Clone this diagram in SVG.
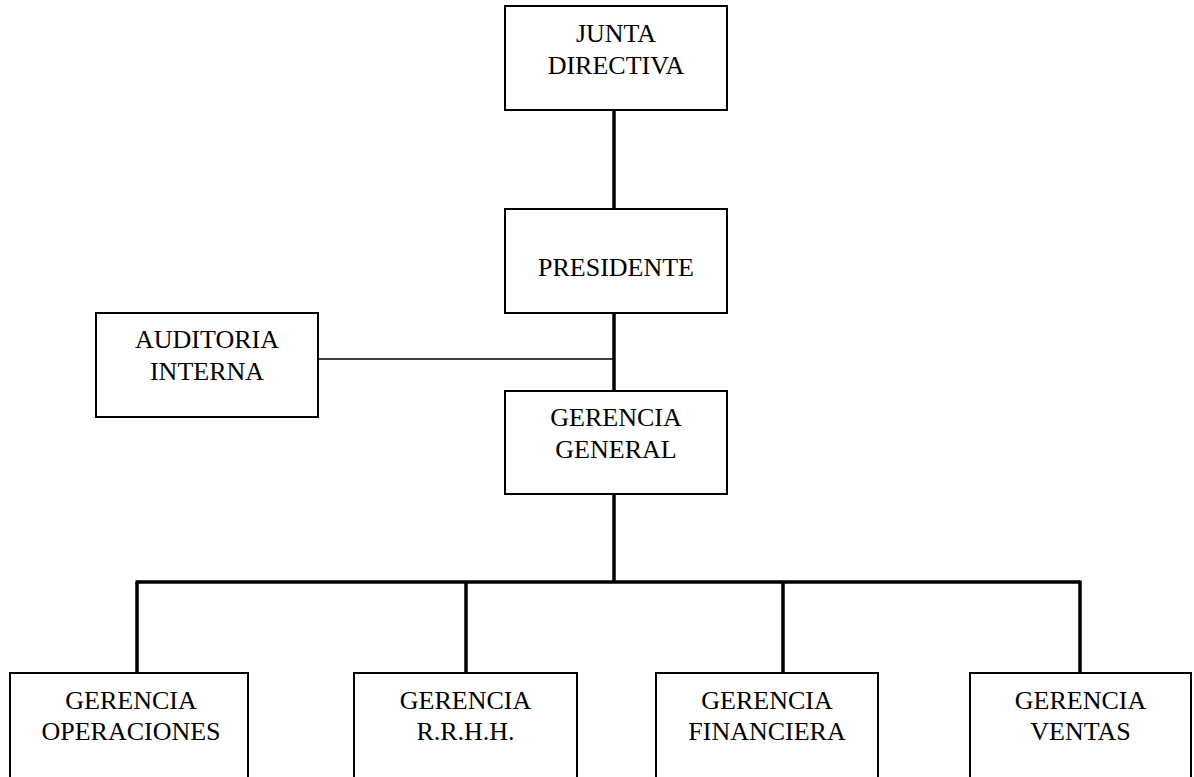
<svg xmlns="http://www.w3.org/2000/svg" width="1194" height="777" viewBox="0 0 1194 777">
<style>
.box{fill:#fff;stroke:#000;stroke-width:2}
.t{font-family:"Liberation Serif","Times New Roman",serif;font-size:26px;fill:#000;text-anchor:middle}
.c{stroke:#000;stroke-width:3.5;fill:none}
.thin{stroke:#000;stroke-width:1.5;fill:none}
</style>
<rect width="1194" height="777" fill="#fff"/>
<g id="connectors">
<line class="c" x1="614" y1="110" x2="614" y2="209"/>
<line class="c" x1="614" y1="313" x2="614" y2="391"/>
<line class="thin" x1="318" y1="359" x2="614" y2="359"/>
<line class="c" x1="614" y1="494" x2="614" y2="582"/>
<line class="c" x1="135.5" y1="582" x2="1080" y2="582"/>
<line class="c" x1="137" y1="582" x2="137" y2="673"/>
<line class="c" x1="466" y1="582" x2="466" y2="673"/>
<line class="c" x1="783" y1="582" x2="783" y2="673"/>
<line class="c" x1="1080" y1="580.5" x2="1080" y2="673"/>
</g>
<g id="junta">
<rect class="box" x="505" y="6" width="222" height="104"/>
<text class="t" x="616" y="42">JUNTA</text>
<text class="t" x="616" y="74">DIRECTIVA</text>
</g>
<g id="presidente">
<rect class="box" x="505" y="209" width="222" height="104"/>
<text class="t" x="616" y="276">PRESIDENTE</text>
</g>
<g id="auditoria">
<rect class="box" x="96" y="313" width="222" height="104"/>
<text class="t" x="207" y="348">AUDITORIA</text>
<text class="t" x="207" y="380">INTERNA</text>
</g>
<g id="gerencia-general">
<rect class="box" x="505" y="391" width="222" height="103"/>
<text class="t" x="616" y="426">GERENCIA</text>
<text class="t" x="616" y="458">GENERAL</text>
</g>
<g id="operaciones">
<rect class="box" x="10" y="673" width="238" height="120"/>
<text class="t" x="131" y="709">GERENCIA</text>
<text class="t" x="131" y="740">OPERACIONES</text>
</g>
<g id="rrhh">
<rect class="box" x="354" y="673" width="223" height="120"/>
<text class="t" x="465.5" y="709">GERENCIA</text>
<text class="t" x="465.5" y="740">R.R.H.H.</text>
</g>
<g id="financiera">
<rect class="box" x="656" y="673" width="222" height="120"/>
<text class="t" x="767" y="709">GERENCIA</text>
<text class="t" x="767" y="740">FINANCIERA</text>
</g>
<g id="ventas">
<rect class="box" x="970" y="673" width="221" height="120"/>
<text class="t" x="1080.5" y="709">GERENCIA</text>
<text class="t" x="1080.5" y="740">VENTAS</text>
</g>
</svg>
